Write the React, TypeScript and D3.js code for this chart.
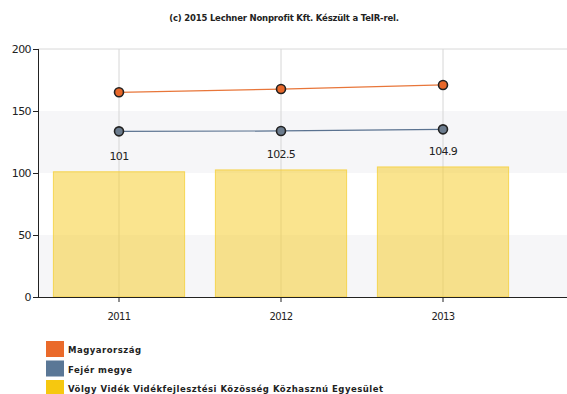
import React from "react";
import * as d3 from "d3";

const categories = ["2011", "2012", "2013"];
const barValues = [101, 102.5, 104.9];
const barLabels = ["101", "102.5", "104.9"];
const magyarorszag = [165.1, 167.7, 171];
const fejer = [133.6, 133.9, 135.2];
const yTicks = [0, 50, 100, 150, 200];
const legendItems = [
  "Magyarország",
  "Fejér megye",
  "Völgy Vidék Vidékfejlesztési Közösség Közhasznú Egyesület",
];

const W = 567;
const H = 394;
const left = 38;
const right = 524;
const top = 49;
const bottom = 297;
const font = "'DejaVu Sans', Verdana, sans-serif";

export default function App() {
  const x = d3.scaleBand<string>().domain(categories).range([left, right]).paddingInner(0.19).paddingOuter(0.095);
  const xc = d3.scalePoint<string>().domain(categories).range([left, right]).padding(0.5);
  const y = d3.scaleLinear().domain([0, 200]).range([bottom, top]);
  const line = d3
    .line<number>()
    .x((_, i) => xc(categories[i]) as number)
    .y((d) => y(d));
  const colors = ["#ea6a2a", "#5a7796", "#f6c80f"];
  const bands = [
    [0, 50, "#f6f6f8"],
    [50, 100, "#ffffff"],
    [100, 150, "#f6f6f8"],
    [150, 200, "#ffffff"],
  ] as const;

  return (
    <svg width={W} height={H} style={{ position: "absolute", left: 0, top: 0 }} fontFamily={font}>
      <rect width={W} height={H} fill="#fff" />
      <text x={284} y={21} textAnchor="middle" fontSize={8.5} fontWeight="bold" fill="#222" letterSpacing={-0.2}>
        (c) 2015 Lechner Nonprofit Kft. Készült a TeIR-rel.
      </text>
      {bands.map(([a, b, c], i) => (
        <rect key={i} x={left} y={y(b)} width={W - left} height={y(a) - y(b)} fill={c} />
      ))}
      <line x1={left} x2={W} y1={y(200)} y2={y(200)} stroke="#d8d8d8" />
      {categories.map((c) => (
        <line key={c} x1={xc(c)} x2={xc(c)} y1={top} y2={bottom} stroke="#d6d6d6" strokeWidth={1} />
      ))}
      {categories.map((c, i) => (
        <rect
          key={c}
          x={x(c)}
          y={y(barValues[i])}
          width={x.bandwidth()}
          height={y(0) - y(barValues[i])}
          fill="rgba(246,206,50,0.55)"
          stroke="rgba(246,206,50,0.75)"
          strokeWidth={1}
        />
      ))}
      {categories.map((c, i) => (
        <text key={c} x={xc(c)} y={y(barValues[i]) - 12} textAnchor="middle" fontSize={11} fill="#222" letterSpacing={-0.6}>
          {barLabels[i]}
        </text>
      ))}
      <path d={line(magyarorszag) || ""} fill="none" stroke="#e8763a" strokeWidth={1.2} />
      <path d={line(fejer) || ""} fill="none" stroke="#5a7290" strokeWidth={1.2} />
      {magyarorszag.map((v, i) => (
        <circle key={i} cx={xc(categories[i])} cy={y(v)} r={4.5} fill="#e8682a" stroke="#222" strokeWidth={1.6} />
      ))}
      {fejer.map((v, i) => (
        <circle key={i} cx={xc(categories[i])} cy={y(v)} r={4.5} fill="#6c7c8e" stroke="#222" strokeWidth={1.6} />
      ))}
      <line x1={left + 0.5} x2={left + 0.5} y1={top} y2={bottom} stroke="#222" />
      <line x1={left} x2={W} y1={bottom + 0.5} y2={bottom + 0.5} stroke="#222" />
      {yTicks.map((t) => (
        <g key={t}>
          <line x1={left - 5} x2={left} y1={y(t) + 0.5} y2={y(t) + 0.5} stroke="#222" />
          <text x={left - 7} y={y(t) + 4} textAnchor="end" fontSize={11} fill="#222" letterSpacing={-0.6}>
            {t}
          </text>
        </g>
      ))}
      {categories.map((c) => (
        <g key={c}>
          <line x1={xc(c)} x2={xc(c)} y1={bottom} y2={bottom + 5} stroke="#222" />
          <text x={xc(c)} y={bottom + 23} textAnchor="middle" fontSize={10} fill="#222" letterSpacing={-0.6}>
            {c}
          </text>
        </g>
      ))}
      {legendItems.map((t, i) => (
        <g key={t}>
          <rect x={46} y={341 + i * 19.5} width={18} height={16} fill={colors[i]} />
          <text x={68} y={353 + i * 19.5} fontSize={8.5} fontWeight="bold" fill="#222" letterSpacing={0.5}>
            {t}
          </text>
        </g>
      ))}
    </svg>
  );
}
